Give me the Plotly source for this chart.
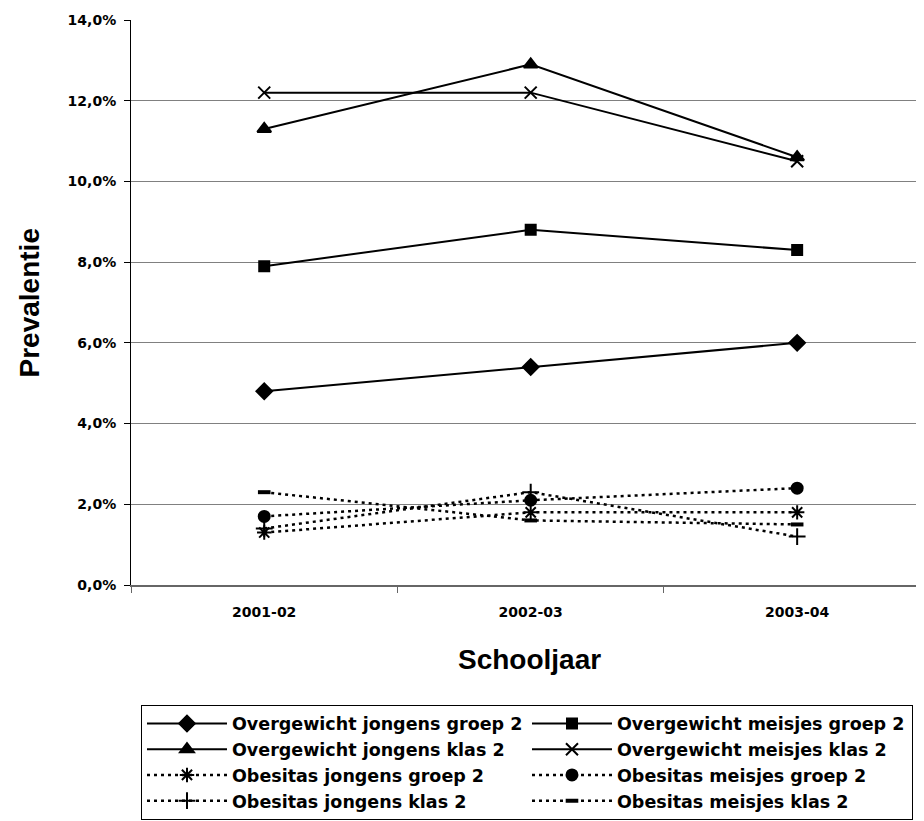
import plotly.graph_objects as go

years = ["2001-02", "2002-03", "2003-04"]

ow_jongens_groep2 = [4.8, 5.4, 6.0]
ow_meisjes_groep2 = [7.9, 8.8, 8.3]
ow_jongens_klas2 = [11.3, 12.9, 10.6]
ow_meisjes_klas2 = [12.2, 12.2, 10.5]
ob_jongens_groep2 = [1.3, 1.8, 1.8]
ob_meisjes_groep2 = [1.7, 2.1, 2.4]
ob_jongens_klas2 = [1.4, 2.3, 1.2]
ob_meisjes_klas2 = [2.3, 1.6, 1.5]

y_ticks = [0, 2, 4, 6, 8, 10, 12, 14]
y_ticktext = [f"{v:.1f}%".replace(".", ",") for v in y_ticks]

series = [
    ("Overgewicht jongens groep 2", ow_jongens_groep2, "solid", "diamond", 12),
    ("Overgewicht meisjes groep 2", ow_meisjes_groep2, "solid", "square", 10),
    ("Overgewicht jongens klas 2", ow_jongens_klas2, "solid", "triangle-up", 12),
    ("Overgewicht meisjes klas 2", ow_meisjes_klas2, "solid", "x-thin-open", 12),
    ("Obesitas jongens groep 2", ob_jongens_groep2, "dot", "asterisk-open", 12),
    ("Obesitas meisjes groep 2", ob_meisjes_groep2, "dot", "circle", 11),
    ("Obesitas jongens klas 2", ob_jongens_klas2, "dot", "cross-thin-open", 12),
    ("Obesitas meisjes klas 2", ob_meisjes_klas2, "dot", "line-ew-open", 9),
]

fig = go.Figure()
for name, vals, dash, sym, sz in series:
    fig.add_trace(go.Scatter(
        x=years, y=vals, name=name, mode="lines+markers",
        line=dict(color="black", width=2 if dash == "solid" else 2.5,
                  dash="solid" if dash == "solid" else "3px,4px"),
        marker=dict(symbol=sym, size=sz, color="black",
                    line=dict(color="black", width=4 if sym == "line-ew-open" else 2)),
    ))

tickfont = dict(family="DejaVu Sans, Arial", size=14, color="black", weight="bold")

fig.update_layout(
    width=916, height=813,
    margin=dict(l=123, r=0, t=12, b=236, autoexpand=False),
    paper_bgcolor="white", plot_bgcolor="white",
    showlegend=True,
    xaxis=dict(
        type="category", range=[-0.5, 2.476],
        showgrid=False, showline=True, linecolor="#666666", linewidth=1.5,
        ticks="outside", tickson="boundaries", ticklen=6, tickcolor="#666666",
        tickfont=tickfont, ticklabelstandoff=13,
    ),
    yaxis=dict(
        range=[0, 14], tickvals=y_ticks, ticktext=y_ticktext,
        showgrid=True, gridcolor="#808080", gridwidth=1,
        showline=True, linecolor="black", linewidth=1,
        ticks="outside", ticklen=6, tickcolor="black",
        tickfont=tickfont, ticklabelstandoff=5, zeroline=False,
    ),
    legend=dict(
        orientation="h", x=0.0126, xanchor="left", y=-0.2116, yanchor="top",
        entrywidth=290, entrywidthmode="pixels", itemwidth=80,
        bordercolor="black", borderwidth=1, bgcolor="white",
        font=dict(family="DejaVu Sans, Arial", size=17.5, color="black", weight="bold"),
        traceorder="normal",
    ),
    annotations=[
        dict(text="Prevalentie", xref="paper", yref="paper", x=-0.1274, y=0.5,
             xanchor="center", yanchor="middle", textangle=-90, showarrow=False,
             font=dict(family="Liberation Sans, Arial", size=28, color="black", weight="bold")),
        dict(text="Schooljaar", xref="paper", yref="paper", x=0.502, y=-0.1327,
             xanchor="center", yanchor="middle", showarrow=False,
             font=dict(family="Liberation Sans, Arial", size=28, color="black", weight="bold")),
    ],
)

fig.write_html("out.html")
